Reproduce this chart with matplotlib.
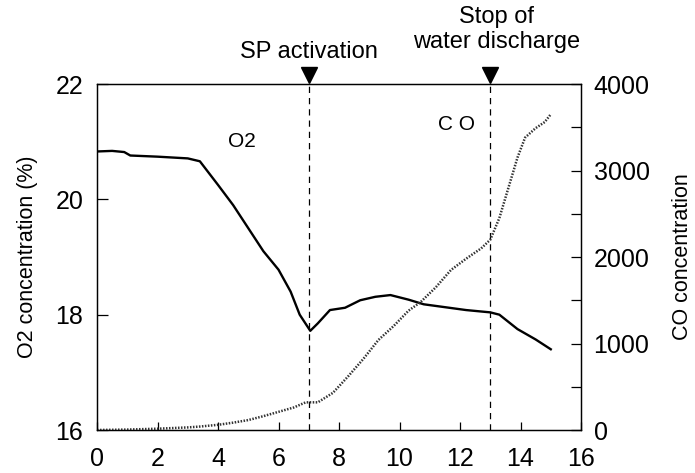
import matplotlib.pyplot as plt
from matplotlib.ticker import MultipleLocator
import matplotlib.transforms as mtransforms

plt.rcParams['font.family'] = ['Liberation Sans', 'DejaVu Sans']

# O2 concentration (%)
o2_t = [0, 0.5, 0.9, 1.1, 2, 3, 3.4, 4.0, 4.5, 5.0, 5.5, 6.0, 6.4, 6.7, 7.05, 7.3,
        7.7, 8.2, 8.7, 9.2, 9.7, 10.3, 10.8, 11.5, 12.2, 13.0, 13.3, 13.9, 14.5, 15.0]
o2_v = [20.83, 20.84, 20.82, 20.76, 20.74, 20.71, 20.66, 20.25, 19.90, 19.50, 19.10,
        18.78, 18.40, 18.00, 17.72, 17.85, 18.08, 18.12, 18.25, 18.31, 18.34, 18.26,
        18.18, 18.13, 18.08, 18.04, 18.00, 17.75, 17.57, 17.40]

# CO concentration
co_t = [0, 1, 2, 3, 3.4, 4, 4.5, 5, 5.5, 6, 6.5, 6.9, 7.3, 7.8, 8.3, 8.8, 9.3, 9.8,
        10.3, 10.7, 11.2, 11.7, 12.2, 12.7, 13.0, 13.3, 13.6, 13.9, 14.15, 14.5, 14.8, 15.0]
co_v = [0, 5, 15, 30, 40, 60, 85, 115, 160, 210, 260, 320, 320, 430, 620, 820, 1040,
        1200, 1380, 1480, 1650, 1850, 1980, 2100, 2200, 2450, 2800, 3150, 3380, 3490,
        3560, 3650]

events = [7, 13]
event_labels = ["SP activation", "Stop of\nwater discharge"]

fig = plt.figure(figsize=(6.95, 4.73), dpi=100)
ax = fig.add_axes([0.1396, 0.0909, 0.6964, 0.7315])
ax2 = ax.twinx()

ax.plot(o2_t, o2_v, color="black", lw=1.7)
ax2.plot(co_t, co_v, color="#333333", lw=1.8, ls=(0, (0.6, 0.6)))

for t in events:
    ax.axvline(t, color="black", lw=0.9, ls=(0, (5, 4)))

ax.set_xlim(0, 16)
ax.set_ylim(16, 22)
ax2.set_ylim(0, 4000)
ax.xaxis.set_major_locator(MultipleLocator(2))
ax.yaxis.set_major_locator(MultipleLocator(2))
ax2.yaxis.set_major_locator(MultipleLocator(1000))
ax2.yaxis.set_minor_locator(MultipleLocator(500))

ax.tick_params(axis="x", direction="in", length=6, width=0.9, labelsize=18, pad=12)
ax.tick_params(axis="y", direction="in", length=8, width=0.9, labelsize=18, pad=10)
ax2.tick_params(which="both", direction="in", length=7, width=0.9, labelsize=18, pad=9)

ax.set_ylabel("O2 concentration (%)", fontsize=15.5)
ax2.set_ylabel("CO concentration", fontsize=15.5)
ax.yaxis.set_label_coords(-0.122, 0.5)
ax2.yaxis.set_label_coords(1.188, 0.5)

ax.text(4.79, 21.01, "O2", fontsize=15, ha="center", va="center")
ax.text(11.87, 21.29, "C O", fontsize=15, ha="center", va="center")

trans = mtransforms.blended_transform_factory(ax.transData, ax.transAxes)
for t in events:
    ax.plot([t], [1.026], marker="v", color="black", markersize=12, clip_on=False, transform=trans)
ax.text(7, 1.075, event_labels[0], transform=trans, ha="center", va="baseline", fontsize=17)
ax.text(13.2, 1.104, event_labels[1], transform=trans, ha="center", va="baseline", fontsize=17,
        linespacing=1.2)

for a in (ax, ax2):
    for s in a.spines.values():
        s.set_linewidth(0.9)

fig.savefig("out.png", dpi=100)
